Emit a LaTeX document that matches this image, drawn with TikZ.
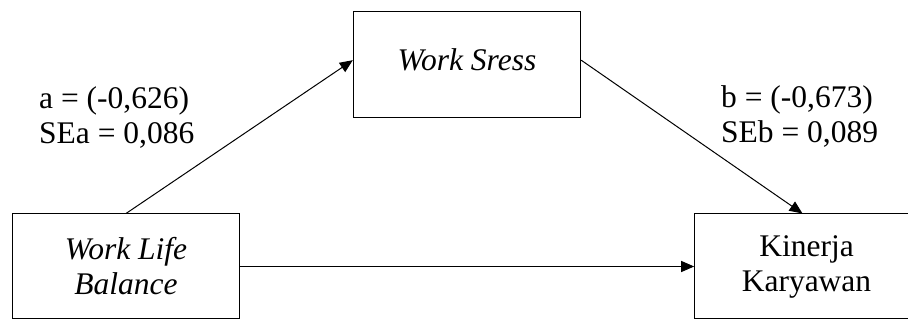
\documentclass[tikz,border=0pt]{standalone}
\usepackage{fontspec}
\setmainfont{LiberationSerif}[Extension=.ttf,UprightFont=*-Regular,ItalicFont=*-Italic,BoldFont=*-Bold]
\usetikzlibrary{arrows.meta}
\begin{document}
\begin{tikzpicture}[x=1pt,y=-1pt,
  box/.style={draw=black,line width=1pt,inner sep=0pt,align=center,
    font=\fontsize{31.5}{35}\selectfont},
  lbl/.style={inner sep=0pt,align=left,anchor=north west,
    font=\fontsize{31.5}{35}\selectfont},
  arr/.style={line width=1pt,-{Triangle[length=13pt,width=11pt]}}]
\useasboundingbox (0,0) rectangle (908,320);
\clip (0,0) rectangle (908,320);
\fill[white] (0,0) rectangle (908,320);
\node[box,minimum width=226.6pt,minimum height=105pt] (wlb) at (126,266.5)
  {\itshape Work Life\\\itshape Balance};
\node[box,minimum width=227.4pt,minimum height=106pt,text depth=9.5pt] (ws) at (467,64.2)
  {\itshape Work Sress};
\node[box,minimum width=223.6pt,minimum height=105pt] (kk) at (806.5,266.5)
  {Kinerja\\Karyawan};
\node[lbl] (la) at (39,86) {a = (-0,626)\\SEa = 0,086};
\node[lbl] (lb) at (721,85) {b = (-0,673)\\SEb = 0,089};
\draw[arr] (wlb.north) -- ([yshift=4pt]ws.west);
\draw[arr] ([yshift=4pt]ws.east) -- ([xshift=-4pt]kk.north);
\draw[arr] (wlb.east) -- (kk.west);
\end{tikzpicture}
\end{document}
